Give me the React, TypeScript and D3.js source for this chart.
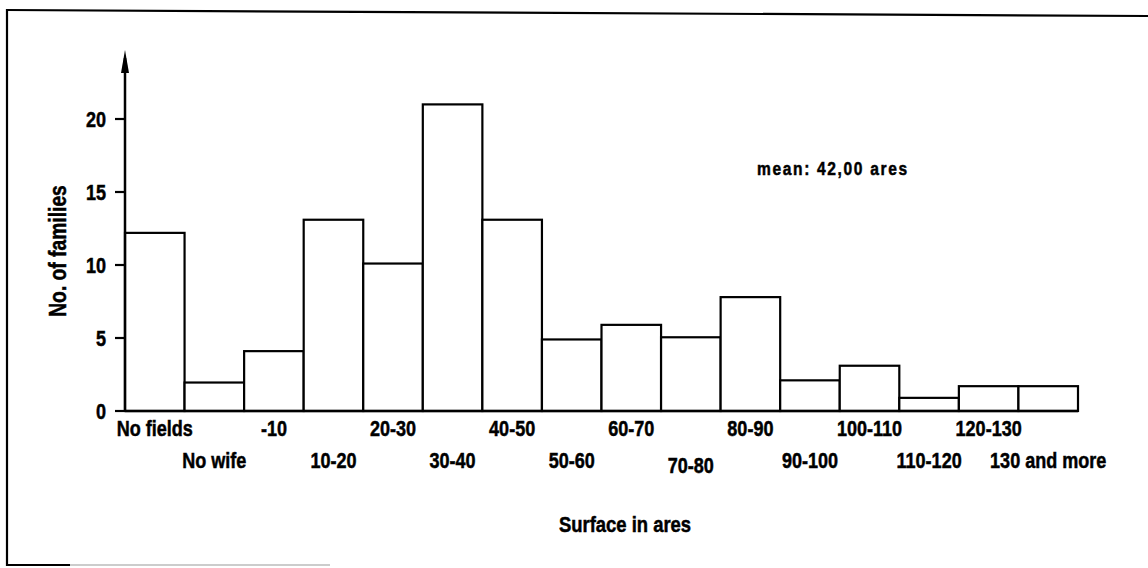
import React from "react";
import * as d3 from "d3";

const categories = [
  "No fields", "No wife", "-10", "10-20", "20-30", "30-40", "40-50", "50-60",
  "60-70", "70-80", "80-90", "90-100", "100-110", "110-120", "120-130", "130 and more",
];
const families = [12.2, 1.95, 4.1, 13.1, 10.1, 21.0, 13.1, 4.9, 5.9, 5.05, 7.8, 2.1, 3.1, 0.9, 1.7, 1.7];
const yTicks = [0, 5, 10, 15, 20];
const meanLabel = "mean: 42,00 ares";
const xTitle = "Surface in ares";
const yTitle = "No. of families";

// layout (not data)
const W = 1148;
const H = 568;
const FONT = "'Liberation Sans', Arial, sans-serif";
const NARROW = 0.82;
const labelNudge: Record<string, number> = { "70-80": 5 };

function NText(props: {
  x: number;
  y: number;
  anchor?: "start" | "middle" | "end";
  size: number;
  rotate?: number;
  spacing?: number;
  dy?: string;
  children: React.ReactNode;
}) {
  const { x, y, anchor = "middle", size, rotate = 0, spacing = 0, dy, children } = props;
  return (
    <g transform={`translate(${x},${y}) rotate(${rotate}) scale(${NARROW},1)`}>
      <text
        x={0}
        y={0}
        dy={dy}
        textAnchor={anchor}
        fontFamily={FONT}
        fontWeight="bold"
        fontSize={size}
        letterSpacing={spacing}
        fill="#000"
        stroke="#000"
        strokeWidth={0.5}
      >
        {children}
      </text>
    </g>
  );
}

export default function App() {
  const x = d3.scaleBand<string>().domain(categories).range([125, 1078]).padding(0);
  const y = d3.scaleLinear().domain([0, 20]).range([411, 119]);
  const x0 = x.range()[0];

  return (
    <svg width={W} height={H} style={{ position: "absolute", left: 0, top: 0, background: "#fff" }}>
      <rect x={0} y={0} width={W} height={H} fill="#fff" />
      {/* frame */}
      <line x1={7} y1={10} x2={W} y2={16} stroke="#000" strokeWidth={2.2} />
      <line x1={7} y1={9} x2={7} y2={566} stroke="#000" strokeWidth={2.2} />
      <line x1={6} y1={565} x2={70} y2={565} stroke="#000" strokeWidth={2.2} />
      <line x1={70} y1={565} x2={330} y2={565} stroke="#bbb" strokeWidth={1.5} />

      {/* bars */}
      {categories.map((c, i) => (
        <rect
          key={c}
          x={x(c)!}
          y={y(families[i])}
          width={x.bandwidth()}
          height={y(0) - y(families[i])}
          fill="#fff"
          stroke="#000"
          strokeWidth={2.2}
        />
      ))}

      {/* baseline */}
      <line x1={x0} y1={y(0)} x2={1078} y2={y(0)} stroke="#000" strokeWidth={2.5} />

      {/* y axis */}
      <line x1={x0} y1={y(0)} x2={x0} y2={58} stroke="#000" strokeWidth={2.5} />
      <path d={`M${x0},50 L${x0 - 4},73 L${x0 + 4},73 Z`} fill="#000" />
      {yTicks.map((t) => (
        <g key={t}>
          <line x1={x0 - 10} y1={y(t)} x2={x0} y2={y(t)} stroke="#000" strokeWidth={2.2} />
          <NText x={106} y={y(t)} dy="0.36em" anchor="end" size={22}>
            {t}
          </NText>
        </g>
      ))}

      {/* category labels, alternating rows */}
      {categories.map((c, i) => (
        <NText
          key={"l" + c}
          x={x(c)! + x.bandwidth() / 2}
          y={(i % 2 === 0 ? 436 : 468) + (labelNudge[c] || 0)}
          size={22}
        >
          {c}
        </NText>
      ))}

      {/* titles */}
      <NText x={625} y={532} size={22.5}>
        {xTitle}
      </NText>
      <NText x={66} y={251} rotate={-90} size={23.5}>
        {yTitle}
      </NText>
      <NText x={757} y={175} anchor="start" size={19} spacing={2}>
        {meanLabel}
      </NText>
    </svg>
  );
}
